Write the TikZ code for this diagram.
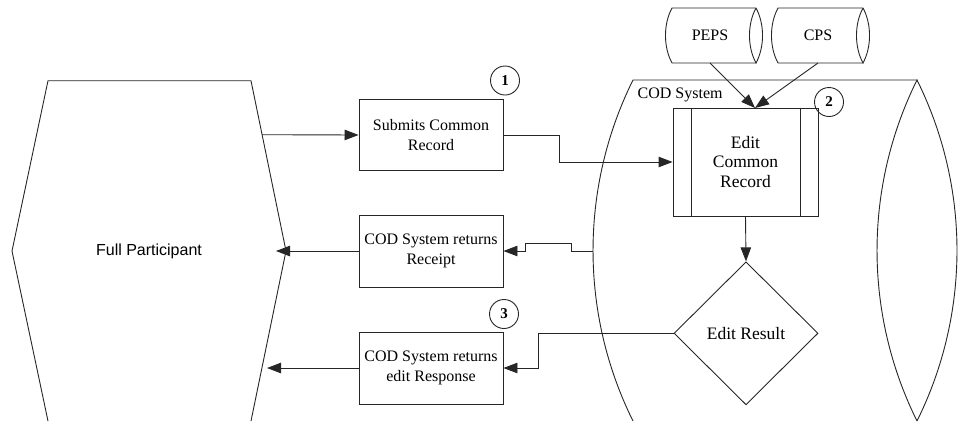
\documentclass[tikz,border=0pt]{standalone}
\usepackage{fontspec}
\setmainfont{Liberation Serif}
\newfontfamily\arialfont{Liberation Sans}
\usetikzlibrary{arrows.meta,shapes.geometric}
\tikzset{
  line/.style={line width=0.9pt, draw=black!85},
  flow/.style={line, -{Triangle[length=14pt,width=10.5pt]}},
  stepbox/.style={line, rectangle, minimum width=144pt, minimum height=72pt,
    inner sep=0pt, align=center, font=\fontsize{16}{19.5}\selectfont},
  bigtext/.style={font=\fontsize{17.5}{19.5}\selectfont},
  tag/.style={line, circle, minimum size=29pt, inner sep=0pt,
    font=\fontsize{15}{15}\selectfont\bfseries},
  label/.style={inner sep=0pt, font=\fontsize{16}{19}\selectfont}
}
\begin{document}
\begin{tikzpicture}[x=1pt,y=-1pt]
\useasboundingbox (0,0) rectangle (958,421);

% external entity: Full Participant (hexagon, runs off the lower edge)
\draw[line] (48,421) -- (12,251) -- (48,80.7) -- (251,80.7) -- (286,251) -- (251,421);
\node[label, font=\arialfont\fontsize{16}{19}\selectfont] (fp) at (149,251) {Full Participant};
\coordinate (fp-out) at (262,134.7);
\coordinate (fp-in1) at (276,251);
\coordinate (fp-in2) at (267,368);

% data stores PEPS and CPS
\draw[line] (756,8) -- (672,8) .. controls (663.3,24) and (663.3,47) .. (672,63) -- (756,63);
\draw[line] (756,8) .. controls (747.3,24) and (747.3,47) .. (756,63)
  .. controls (764.7,47) and (764.7,24) .. (756,8);
\node[label] (peps) at (710,35.5) {PEPS};
\coordinate (peps-out) at (710,63);

\draw[line] (863,8) -- (778,8) .. controls (769.3,24) and (769.3,47) .. (778,63) -- (863,63);
\draw[line] (863,8) .. controls (854.3,24) and (854.3,47) .. (863,63)
  .. controls (871.7,47) and (871.7,24) .. (863,8);
\node[label] (cps) at (818,35.5) {CPS};
\coordinate (cps-out) at (818,63);

% COD System boundary
\draw[line] (633,421) .. controls (579.7,313.6) and (579.7,187.4) .. (633,80) -- (917,80);
\draw[line] (917,421) .. controls (863.7,313.6) and (863.7,187.4) .. (917,80)
  .. controls (970.3,187.4) and (970.3,313.6) .. (917,421);
\node[label, anchor=west] (codlabel) at (637.5,95) {COD System};
\coordinate (cod-w) at (593,251);

% process steps
\node[stepbox, minimum height=71.4pt] (submit) at (431,135) {Submits Common\\Record};
\node[stepbox] (receipt) at (431,251) {COD System returns\\Receipt};
\node[stepbox] (resp) at (431,368) {COD System returns\\edit Response};

\node[stepbox, bigtext, minimum width=145pt, minimum height=108pt] (edit) at (745.5,162)
  {Edit\\Common\\Record};
\draw[line] ([xshift=18.7pt]edit.north west) -- ([xshift=18.7pt]edit.south west);
\draw[line] ([xshift=-18pt]edit.north east) -- ([xshift=-18pt]edit.south east);
\coordinate (edit-in) at (755,108);

\node[line, diamond, aspect=1, minimum width=144pt, minimum height=143pt, inner sep=0pt,
  bigtext] (result) at (746,333.3) {Edit Result};

% step numbers
\node[tag] (n1) at (505,80.5) {1};
\node[tag] (n2) at (829,102) {2};
\node[tag] (n3) at (504,314) {3};

% connectors
\draw[flow] (fp-out) -- (submit.west);
\draw[flow] (submit.east) -- ++(56,0) |- (edit.west);
\draw[flow] (peps-out) -- (edit-in);
\draw[flow] (cps-out) -- (edit-in);
\draw[flow] (edit.south) -- (result.north);
\draw[flow] (result.west) -- ++(-135,0) |- (resp.east);
\draw[flow] (cod-w) -- ++(-21.3,0) -- ++(0,-8) -- ++(-46,0) -- ++(0,8) -- (receipt.east);
\draw[flow] (receipt.west) -- (fp-in1);
\draw[flow] (resp.west) -- (fp-in2);
\end{tikzpicture}
\end{document}
